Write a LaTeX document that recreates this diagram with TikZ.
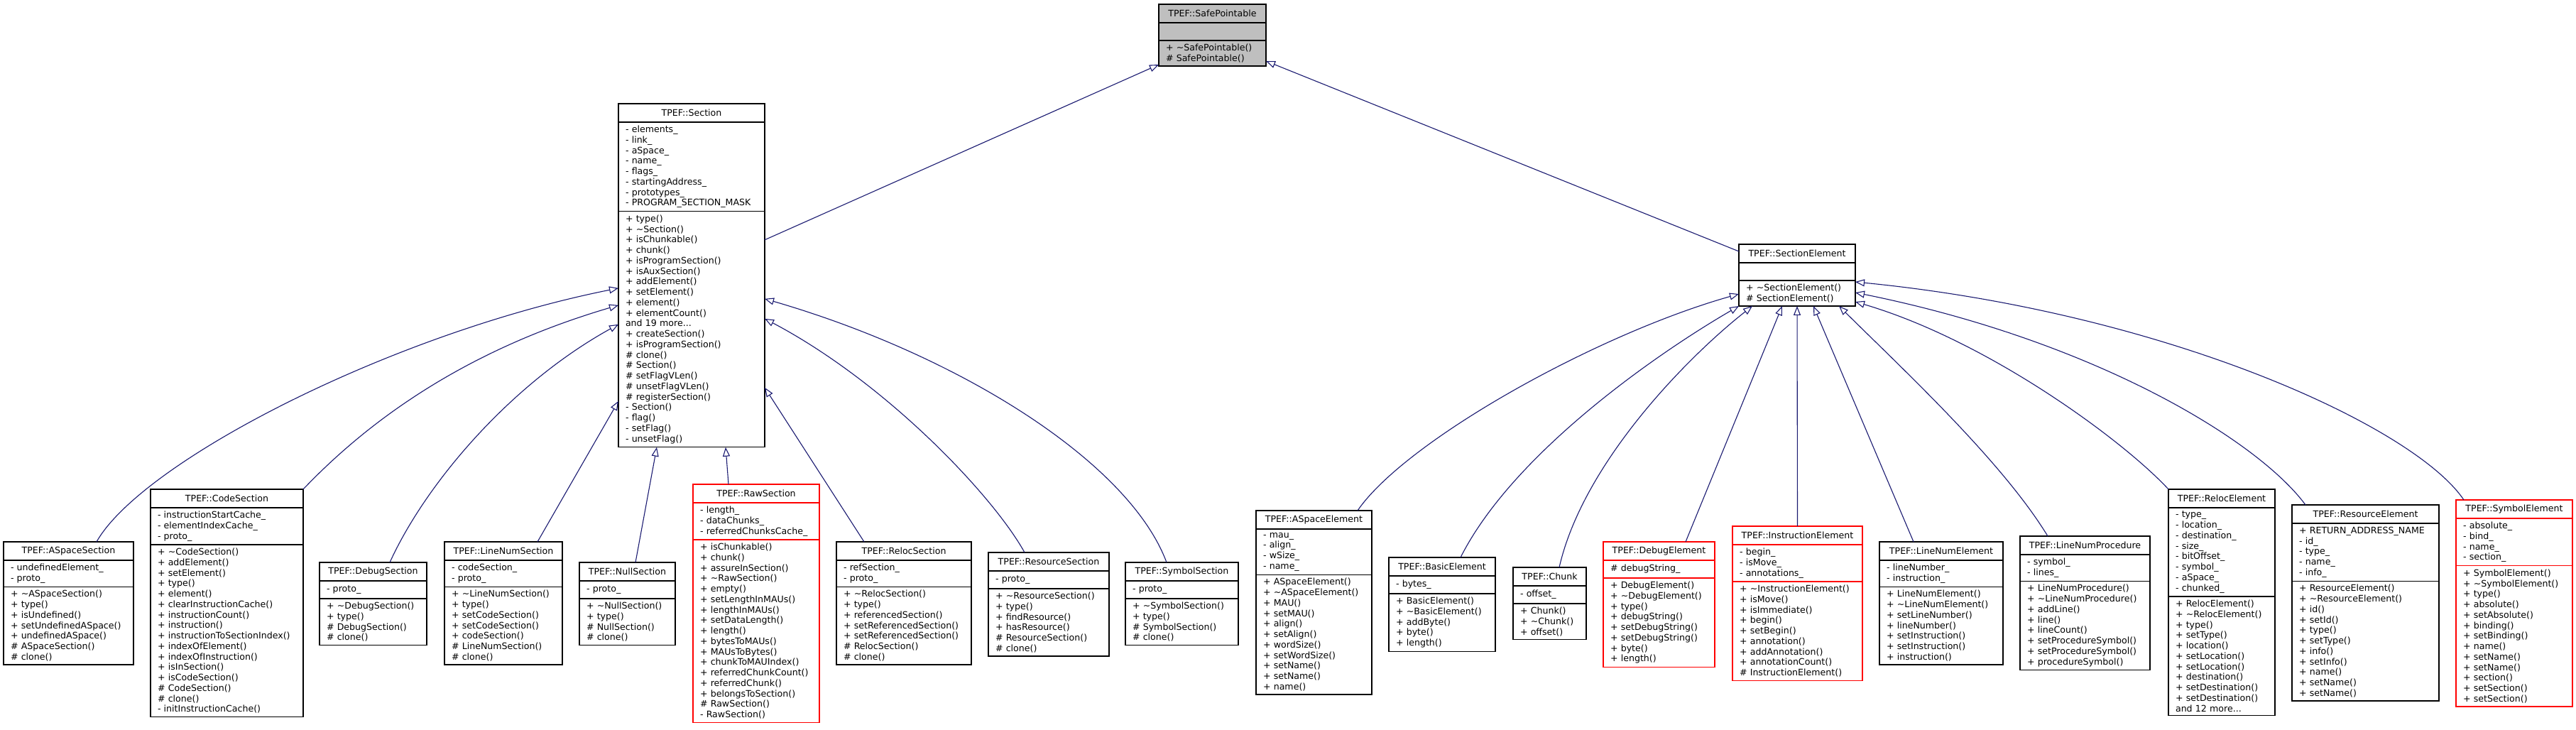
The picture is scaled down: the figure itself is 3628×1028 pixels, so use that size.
\documentclass[tikz,border=0pt]{standalone}
\usepackage{fontspec}
\setmainfont{DejaVu Sans}
\usetikzlibrary{arrows.meta}
\definecolor{edgeblue}{HTML}{191970}
\definecolor{spgray}{HTML}{BFBFBF}
\newcommand\tld{\textasciitilde}
\tikzset{
  umlfont/.style={font=\fontsize{12.6}{14.75}\selectfont},
  hdr/.style={draw, line width=1.3pt, outer sep=0pt, umlfont, minimum height=26pt, inner sep=0pt, anchor=north west},
  cmp/.style={draw, line width=1.3pt, outer sep=0pt, umlfont, align=left, inner xsep=10pt, inner ysep=5pt, minimum height=25pt, anchor=north west},
  redbox/.style={draw=red},
  graybox/.style={fill=spgray},
  plainbox/.style={},
  edge/.style={draw=edgeblue, line width=1.1pt, -{Triangle[open,length=13pt,width=10pt]}},
}
\newcommand\ubox[8]{%
  \pgfmathsetmacro\tw{#4-20}%
  \node[hdr,#5,minimum width=#4pt] (#1) at (#2,#3) {#6};
  \node[cmp,#5,text width=\tw pt] (#1-a) at (#1.south west) {#7};
  \node[cmp,#5,text width=\tw pt] (#1-m) at (#1-a.south west) {#8};
}
\begin{document}
\begin{tikzpicture}[x=1pt,y=-1pt]
\useasboundingbox (0,0) rectangle (3628,1028);

\ubox{sp}{1632}{6}{151}{graybox}{TPEF::SafePointable}{}{+~\tld SafePointable()\\\#~SafePointable()}

\ubox{sec}{871}{146}{206}{plainbox}{TPEF::Section}{-~elements\_\\-~link\_\\-~aSpace\_\\-~name\_\\-~flags\_\\-~startingAddress\_\\-~prototypes\_\\-~PROGRAM\_SECTION\_MASK}{+~type()\\+~\tld Section()\\+~isChunkable()\\+~chunk()\\+~isProgramSection()\\+~isAuxSection()\\+~addElement()\\+~setElement()\\+~element()\\+~elementCount()\\and~19~more...\\+~createSection()\\+~isProgramSection()\\\#~clone()\\\#~Section()\\\#~setFlagVLen()\\\#~unsetFlagVLen()\\\#~registerSection()\\-~Section()\\-~flag()\\-~setFlag()\\-~unsetFlag()}

\ubox{asps}{5}{763}{183}{plainbox}{TPEF::ASpaceSection}{-~undefinedElement\_\\-~proto\_}{+~\tld ASpaceSection()\\+~type()\\+~isUndefined()\\+~setUndefinedASpace()\\+~undefinedASpace()\\\#~ASpaceSection()\\\#~clone()}

\ubox{code}{212}{689}{215}{plainbox}{TPEF::CodeSection}{-~instructionStartCache\_\\-~elementIndexCache\_\\-~proto\_}{+~\tld CodeSection()\\+~addElement()\\+~setElement()\\+~type()\\+~element()\\+~clearInstructionCache()\\+~instructionCount()\\+~instruction()\\+~instructionToSectionIndex()\\+~indexOfElement()\\+~indexOfInstruction()\\+~isInSection()\\+~isCodeSection()\\\#~CodeSection()\\\#~clone()\\-~initInstructionCache()}

\ubox{dbgs}{450}{792}{151}{plainbox}{TPEF::DebugSection}{-~proto\_}{+~\tld DebugSection()\\+~type()\\\#~DebugSection()\\\#~clone()}

\ubox{lns}{626}{763}{166}{plainbox}{TPEF::LineNumSection}{-~codeSection\_\\-~proto\_}{+~\tld LineNumSection()\\+~type()\\+~setCodeSection()\\+~setCodeSection()\\+~codeSection()\\\#~LineNumSection()\\\#~clone()}

\ubox{null}{816}{792}{135}{plainbox}{TPEF::NullSection}{-~proto\_}{+~\tld NullSection()\\+~type()\\\#~NullSection()\\\#~clone()}

\ubox{raw}{976}{682}{178}{redbox}{TPEF::RawSection}{-~length\_\\-~dataChunks\_\\-~referredChunksCache\_}{+~isChunkable()\\+~chunk()\\+~assureInSection()\\+~\tld RawSection()\\+~empty()\\+~setLengthInMAUs()\\+~lengthInMAUs()\\+~setDataLength()\\+~length()\\+~bytesToMAUs()\\+~MAUsToBytes()\\+~chunkToMAUIndex()\\+~referredChunkCount()\\+~referredChunk()\\+~belongsToSection()\\\#~RawSection()\\-~RawSection()}

\ubox{relocs}{1178}{763}{190}{plainbox}{TPEF::RelocSection}{-~refSection\_\\-~proto\_}{+~\tld RelocSection()\\+~type()\\+~referencedSection()\\+~setReferencedSection()\\+~setReferencedSection()\\\#~RelocSection()\\\#~clone()}

\ubox{ress}{1392}{778}{170}{plainbox}{TPEF::ResourceSection}{-~proto\_}{+~\tld ResourceSection()\\+~type()\\+~findResource()\\+~hasResource()\\\#~ResourceSection()\\\#~clone()}

\ubox{syms}{1585}{792}{159}{plainbox}{TPEF::SymbolSection}{-~proto\_}{+~\tld SymbolSection()\\+~type()\\\#~SymbolSection()\\\#~clone()}

\ubox{se}{2449}{344}{164}{plainbox}{TPEF::SectionElement}{}{+~\tld SectionElement()\\\#~SectionElement()}

\ubox{aspe}{1769}{719}{163}{plainbox}{TPEF::ASpaceElement}{-~mau\_\\-~align\_\\-~wSize\_\\-~name\_}{+~ASpaceElement()\\+~\tld ASpaceElement()\\+~MAU()\\+~setMAU()\\+~align()\\+~setAlign()\\+~wordSize()\\+~setWordSize()\\+~setName()\\+~setName()\\+~name()}

\ubox{basic}{1956}{785}{150}{plainbox}{TPEF::BasicElement}{-~bytes\_}{+~BasicElement()\\+~\tld BasicElement()\\+~addByte()\\+~byte()\\+~length()}

\ubox{chunk}{2131}{799}{103}{plainbox}{TPEF::Chunk}{-~offset\_}{+~Chunk()\\+~\tld Chunk()\\+~offset()}

\ubox{dbge}{2258}{763}{157}{redbox}{TPEF::DebugElement}{\#~debugString\_}{+~DebugElement()\\+~\tld DebugElement()\\+~type()\\+~debugString()\\+~setDebugString()\\+~setDebugString()\\+~byte()\\+~length()}

\ubox{inse}{2440}{741}{183}{redbox}{TPEF::InstructionElement}{-~begin\_\\-~isMove\_\\-~annotations\_}{+~\tld InstructionElement()\\+~isMove()\\+~isImmediate()\\+~begin()\\+~setBegin()\\+~annotation()\\+~addAnnotation()\\+~annotationCount()\\\#~InstructionElement()}

\ubox{lne}{2647}{763}{174}{plainbox}{TPEF::LineNumElement}{-~lineNumber\_\\-~instruction\_}{+~LineNumElement()\\+~\tld LineNumElement()\\+~setLineNumber()\\+~lineNumber()\\+~setInstruction()\\+~setInstruction()\\+~instruction()}

\ubox{lnp}{2845}{755}{183}{plainbox}{TPEF::LineNumProcedure}{-~symbol\_\\-~lines\_}{+~LineNumProcedure()\\+~\tld LineNumProcedure()\\+~addLine()\\+~line()\\+~lineCount()\\+~setProcedureSymbol()\\+~setProcedureSymbol()\\+~procedureSymbol()}

\ubox{rele}{3054}{689}{150}{plainbox}{TPEF::RelocElement}{-~type\_\\-~location\_\\-~destination\_\\-~size\_\\-~bitOffset\_\\-~symbol\_\\-~aSpace\_\\-~chunked\_}{+~RelocElement()\\+~\tld RelocElement()\\+~type()\\+~setType()\\+~location()\\+~setLocation()\\+~setLocation()\\+~destination()\\+~setDestination()\\+~setDestination()\\and~12~more...}

\ubox{rese}{3228}{711}{207}{plainbox}{TPEF::ResourceElement}{+~RETURN\_ADDRESS\_NAME\\-~id\_\\-~type\_\\-~name\_\\-~info\_}{+~ResourceElement()\\+~\tld ResourceElement()\\+~id()\\+~setId()\\+~type()\\+~setType()\\+~info()\\+~setInfo()\\+~name()\\+~setName()\\+~setName()}

\ubox{syme}{3459}{704}{164}{redbox}{TPEF::SymbolElement}{-~absolute\_\\-~bind\_\\-~name\_\\-~section\_}{+~SymbolElement()\\+~\tld SymbolElement()\\+~type()\\+~absolute()\\+~setAbsolute()\\+~binding()\\+~setBinding()\\+~name()\\+~setName()\\+~setName()\\+~section()\\+~setSection()\\+~setSection()}

% Section hierarchy
\draw[edge] ([xshift=131pt]asps.north west) .. controls (200,650) and (550,470) .. ([yshift=-108pt]sec-m.north west);
\draw[edge] (code.north east) .. controls (550,560) and (700,480) .. ([yshift=-132pt]sec-m.north west);
\draw[edge] ([xshift=99pt]dbgs.north west) .. controls (600,680) and (720,540) .. ([yshift=-159pt]sec-m.north west);
\draw[edge] ([xshift=131pt]lns.north west) -- ([yshift=-267pt]sec-m.north west);
\draw[edge] ([xshift=79pt]null.north west) -- ([xshift=54pt]sec-m.south west);
\draw[edge] ([xshift=50pt]raw.north west) -- ([xshift=151pt]sec-m.south west);
\draw[edge] ([xshift=39pt]relocs.north west) -- ([yshift=-248pt]sec-m.north east);
\draw[edge] ([xshift=51pt]ress.north west) .. controls (1400,700) and (1250,540) .. ([yshift=-151pt]sec-m.north east);
\draw[edge] ([xshift=58pt]syms.north west) .. controls (1590,650) and (1350,500) .. ([yshift=-123pt]sec-m.north east);
\draw[edge] ([yshift=-40pt]sec-m.north east) -- ([yshift=-34pt]sp-m.north west);
\draw[edge] ([yshift=-10pt]se.north west) -- ([yshift=-29pt]sp-m.north east);

% SectionElement hierarchy
\draw[edge] ([xshift=143pt]aspe.north west) .. controls (1980,620) and (2250,470) .. ([yshift=-19pt]se-m.north west);
\draw[edge] ([xshift=101pt]basic.north west) .. controls (2130,640) and (2330,500) .. (se-m.south west);
\draw[edge] ([xshift=65pt]chunk.north west) .. controls (2230,650) and (2380,500) .. ([xshift=19pt]se-m.south west);
\draw[edge] ([xshift=116pt]dbge.north west) -- ([xshift=61pt]se-m.south west);
\draw[edge] (inse.north) -- (se-m.south);
\draw[edge] ([xshift=48pt]lne.north west) -- ([xshift=105pt]se-m.south west);
\draw[edge] ([xshift=39pt]lnp.north west) .. controls (2820,650) and (2680,520) .. ([xshift=141pt]se-m.south west);
\draw[edge] (rele.north west) .. controls (2990,620) and (2800,480) .. ([yshift=-30pt]se-m.north east);
\draw[edge] ([xshift=19pt]rese.north west) .. controls (3180,620) and (2950,480) .. ([yshift=-17pt]se-m.north east);
\draw[edge] ([xshift=11pt]syme.north west) .. controls (3400,600) and (3050,440) .. ([yshift=-2pt]se-m.north east);
\end{tikzpicture}
\end{document}
